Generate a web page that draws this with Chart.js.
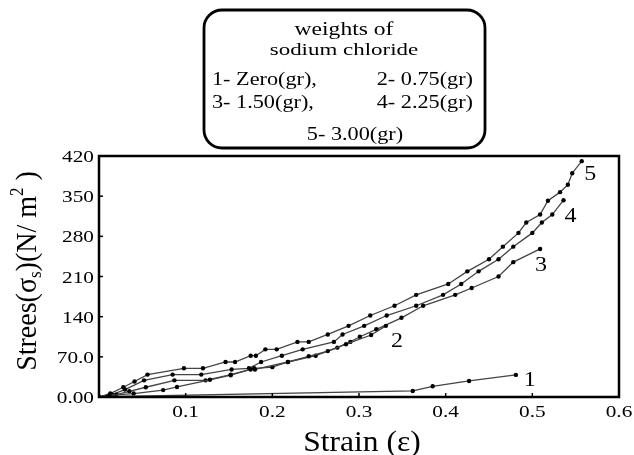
<!DOCTYPE html>
<html>
<head>
<meta charset="utf-8">
<script src="https://cdn.jsdelivr.net/npm/chart.js@4.4.1/dist/chart.umd.min.js"></script>
<style>
  html, body { margin: 0; padding: 0; background: #fff; }
  #wrap { width: 634px; height: 455px; position: relative; }
</style>
</head>
<body>
<div id="wrap"><canvas id="canvas" width="634" height="455"></canvas></div>
<script>
// strain / stress points, one list per curve
var curve1 = [[0,0],[0.01,0.5],[0.362,10.5],[0.385,18.7],[0.427,28],[0.481,38.5]];
var curve2 = [[0,0],[0.012,3],[0.04,6],[0.074,12],[0.09,17.5],[0.128,30],[0.152,38],[0.175,48],
  [0.18,48],[0.218,61],[0.242,71],[0.264,80],[0.285,92],[0.314,108],[0.331,124]];
var curve3 = [[0,0],[0.02,4],[0.035,10],[0.054,17],[0.087,29],[0.123,29],[0.152,39],[0.179,50],
  [0.2,52],[0.218,61],[0.25,72],[0.275,86],[0.29,96],[0.301,105],[0.32,118],[0.349,138],
  [0.374,159],[0.411,178],[0.43,190],[0.461,210],[0.478,235],[0.509,258]];
var curve4 = [[0,0],[0.015,4],[0.03,13],[0.052,29],[0.085,39],[0.118,39],[0.153,48],[0.173,50],
  [0.187,61],[0.211,72],[0.235,83],[0.271,96],[0.281,109],[0.306,124],[0.332,142],[0.366,159],
  [0.397,178],[0.418,197],[0.438,219],[0.461,240],[0.478,262],[0.5,286],[0.511,304],[0.523,318],[0.536,343]];
var curve5 = [[0,0],[0.013,6],[0.028,17],[0.041,27],[0.056,39],[0.098,50],[0.12,50],[0.146,61],
  [0.157,61],[0.175,72],[0.181,72],[0.192,83],[0.205,83],[0.229,96],[0.242,96],[0.264,109],
  [0.288,124],[0.313,142],[0.341,159],[0.366,178],[0.403,197],[0.425,219],[0.45,240],[0.466,262],
  [0.484,286],[0.493,304],[0.509,318],[0.518,342],[0.532,357],[0.541,370],[0.546,390],[0.557,411]];

var curveNames = ['1', '2', '3', '4', '5'];
// where each curve number sits (strain, stress)
var curveLabelPos = [[0.49, 32], [0.337, 100], [0.503, 232], [0.537, 318], [0.56, 390]];

var legendTitle = ['weights of', 'sodium chloride'];
var legendRows = [['1- Zero(gr),', '2- 0.75(gr)'], ['3- 1.50(gr),', '4- 2.25(gr)']];
var legendLast = '5- 3.00(gr)';

var xTitle = 'Strain (\u03B5)';
var yTitleParts = ['Strees(\u03C3', 's', ')(N/ m', '2', ' )'];

var xMin = 0, xMax = 0.6, xStep = 0.1;
var yMin = 0, yMax = 420, yStep = 70;

var serif = '"Liberation Serif", "Times New Roman", serif';

function toXY(arr) {
  return arr.map(function(p) { return { x: p[0], y: p[1] }; });
}

function makeSet(name, pts) {
  return {
    label: name,
    data: toXY(pts),
    borderColor: '#444',
    borderWidth: 1.3,
    pointRadius: 2.2,
    pointBackgroundColor: '#000',
    pointBorderWidth: 0,
    showLine: true,
    tension: 0
  };
}

// text squeezed/stretched sideways like the scanned figure
function wideText(c, txt, x, y, size, sx, align) {
  c.save();
  c.font = size + 'px ' + serif;
  var w = c.measureText(txt).width * sx;
  var left = x;
  if (align === 'center') left = x - w / 2;
  if (align === 'right') left = x - w;
  c.translate(left, y);
  c.scale(sx, 1);
  c.textAlign = 'left';
  c.fillText(txt, 0, 0);
  c.restore();
}

function yLabel(v) {
  if (v === 0) return '0.00';
  if (v === 70) return '70.0';
  return String(v);
}

var decor = {
  id: 'decor',
  afterDraw: function(chart) {
    var c = chart.ctx;
    var a = chart.chartArea;
    var xs = chart.scales.x, ys = chart.scales.y;
    c.save();
    c.fillStyle = '#000';
    c.strokeStyle = '#000';
    c.textBaseline = 'alphabetic';

    // inward tick marks and tick labels
    c.lineWidth = 1.5;
    xs.ticks.forEach(function(t, i) {
      var px = xs.getPixelForTick(i);
      if (t.value <= xMin + 1e-9) return;
      c.beginPath(); c.moveTo(px, a.bottom); c.lineTo(px, a.bottom - 4); c.stroke();
      wideText(c, t.value.toFixed(1), px, a.bottom + 20, 16, 1.33, 'center');
    });
    ys.ticks.forEach(function(t, i) {
      var py = ys.getPixelForTick(i);
      c.beginPath(); c.moveTo(a.left, py); c.lineTo(a.left + 4, py); c.stroke();
      wideText(c, yLabel(t.value), a.left - 5, py + 6, 16, 1.33, 'right');
    });

    // frame
    c.lineWidth = 2.5;
    c.strokeRect(a.left, a.top, a.right - a.left, a.bottom - a.top);

    // curve numbers
    curveNames.forEach(function(n, i) {
      wideText(c, n, xs.getPixelForValue(curveLabelPos[i][0]), ys.getPixelForValue(curveLabelPos[i][1]) + 7, 20, 1.2, 'left');
    });

    // x title
    wideText(c, xTitle, 362, 451, 30, 1.05, 'center');

    // y title with subscript and superscript
    c.save();
    c.translate(36, 271);
    c.rotate(-Math.PI / 2);
    c.scale(1, 1.05);
    var parts = [[yTitleParts[0], 28, 0], [yTitleParts[1], 17, 5], [yTitleParts[2], 28, 0], [yTitleParts[3], 17, -12], [yTitleParts[4], 28, 0]];
    var total = 0;
    parts.forEach(function(p) { c.font = p[1] + 'px ' + serif; total += c.measureText(p[0]).width; });
    var x0 = -total / 2;
    c.textAlign = 'left';
    parts.forEach(function(p) {
      c.font = p[1] + 'px ' + serif;
      c.fillText(p[0], x0, p[2]);
      x0 += c.measureText(p[0]).width;
    });
    c.restore();

    // legend box
    c.lineWidth = 2.8;
    c.beginPath();
    c.roundRect(204, 10, 281, 138, 18);
    c.fillStyle = '#fff';
    c.fill();
    c.stroke();
    c.fillStyle = '#000';
    wideText(c, legendTitle[0], 344, 35, 19, 1.24, 'center');
    wideText(c, legendTitle[1], 344, 55, 17, 1.35, 'center');
    legendRows.forEach(function(row, i) {
      var yy = 85 + i * 23;
      wideText(c, row[0], 212, yy, 19, 1.17, 'left');
      wideText(c, row[1], 473, yy, 19, 1.17, 'right');
    });
    wideText(c, legendLast, 355, 140, 19, 1.17, 'center');
    c.restore();
  }
};

const ctx = document.getElementById('canvas');
const myChart = new Chart(ctx, {
  type: 'scatter',
  data: {
    datasets: [
      makeSet('1', curve1), makeSet('2', curve2), makeSet('3', curve3),
      makeSet('4', curve4), makeSet('5', curve5)
    ]
  },
  options: {
    responsive: false,
    animation: false,
    layout: { padding: { top: 156, right: 15, left: 0, bottom: 0 } },
    plugins: { legend: { display: false }, tooltip: { enabled: false } },
    scales: {
      x: {
        type: 'linear',
        min: xMin, max: xMax,
        grid: { display: false },
        border: { display: false },
        afterFit: function(s) { s.height = 58; },
        ticks: { stepSize: xStep, display: false }
      },
      y: {
        min: yMin, max: yMax,
        grid: { display: false },
        border: { display: false },
        afterFit: function(s) { s.width = 99; },
        ticks: { stepSize: yStep, display: false }
      }
    }
  },
  plugins: [decor]
});
</script>
</body>
</html>
